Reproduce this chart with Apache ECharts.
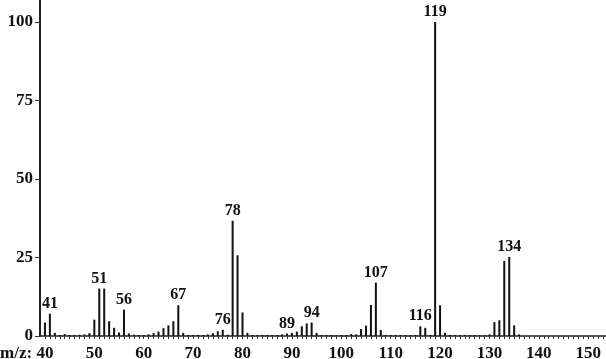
<!DOCTYPE html>
<html>
<head>
<meta charset="utf-8">
<script src="https://cdn.jsdelivr.net/npm/echarts@6/dist/echarts.min.js"></script>
<style>html,body{margin:0;padding:0;background:#fff}#c{width:606px;height:359px}</style>
</head>
<body>
<div id="c"></div>
<script>
// m/z values and relative intensities (%)
var mz = [40,41,42,43,44,45,46,47,48,49,50,51,52,53,54,55,56,57,58,59,60,61,62,63,64,65,66,67,68,69,70,71,72,73,74,75,76,77,78,79,80,81,82,83,84,85,86,87,88,89,90,91,92,93,94,95,96,97,98,99,100,101,102,103,104,105,106,107,108,109,110,111,112,113,114,115,116,117,118,119,120,121,122,123,124,125,126,127,128,129,130,131,132,133,134,135,136];
var intensity = [4.3,7.1,1.0,0.3,0.6,0.3,0.3,0.4,0.5,0.9,5.2,15.1,15.1,4.7,2.6,1.1,8.4,0.8,0.4,0.3,0.3,0.5,0.9,1.4,2.5,3.4,4.7,9.8,1.0,0.3,0.3,0.3,0.3,0.5,0.9,1.5,2.0,0.4,36.7,25.7,7.5,1.0,0.3,0.3,0.3,0.3,0.3,0.3,0.5,0.8,1.0,1.4,3.1,4.0,4.3,1.0,0.3,0.3,0.3,0.3,0.3,0.3,0.6,0.5,2.2,3.3,9.9,17.0,1.9,0.3,0.3,0.3,0.3,0.3,0.3,0.3,3.1,2.6,0.3,100,9.8,1.0,0.3,0.3,0.3,0.3,0.3,0.3,0.3,0.3,0.5,4.4,5.0,23.9,25.2,3.4,0.5];
var labeledPeaks = [41,51,56,67,76,78,89,94,107,116,119,134];
var xTickLabels = [40,50,60,70,80,90,100,110,120,130,140,150];
var yTickLabels = [0,25,50,75,100];

var xMinorTicks = [];
for (var t = 40; t <= 153; t++) xMinorTicks.push(t);

var font = 'Liberation Serif';
var data = mz.map(function (m, i) {
  return {
    value: [m, intensity[i]],
    label: { show: labeledPeaks.indexOf(m) >= 0 }
  };
});

var chart = echarts.init(document.getElementById('c'), null, { renderer: 'canvas' });
chart.setOption({
  animation: false,
  backgroundColor: '#fff',
  grid: { left: 40, top: 0, width: 568, height: 336, containLabel: false, outerBoundsMode: 'none' },
  xAxis: {
    type: 'value', min: 39, max: 154,
    axisLine: { show: true, lineStyle: { color: '#222', width: 1.5 } },
    axisTick: { show: true, customValues: xMinorTicks, length: 3, lineStyle: { color: '#333', width: 1 } },
    axisLabel: { customValues: xTickLabels, color: '#111', fontFamily: font, fontWeight: 'bold', fontSize: 17, margin: 9 },
    splitLine: { show: false }
  },
  yAxis: {
    type: 'value', min: 0, max: 107,
    axisLine: { show: true, lineStyle: { color: '#222', width: 2 } },
    axisTick: { show: true, customValues: yTickLabels, length: 5, lineStyle: { color: '#333', width: 1 } },
    axisLabel: { customValues: yTickLabels, color: '#111', fontFamily: font, fontWeight: 'bold', fontSize: 17, margin: 7 },
    splitLine: { show: false }
  },
  graphic: [{
    type: 'text', left: 0, top: 345,
    style: { text: 'm/z:', fill: '#111', font: 'bold 17px "Liberation Serif"' }
  }],
  series: [{
    type: 'bar',
    barWidth: 2,
    itemStyle: { color: '#111' },
    label: {
      position: 'top', distance: 2, color: '#111',
      fontFamily: font, fontWeight: 'bold', fontSize: 16,
      formatter: function (p) { return p.value[0]; }
    },
    data: data
  }]
});
</script>
</body>
</html>
